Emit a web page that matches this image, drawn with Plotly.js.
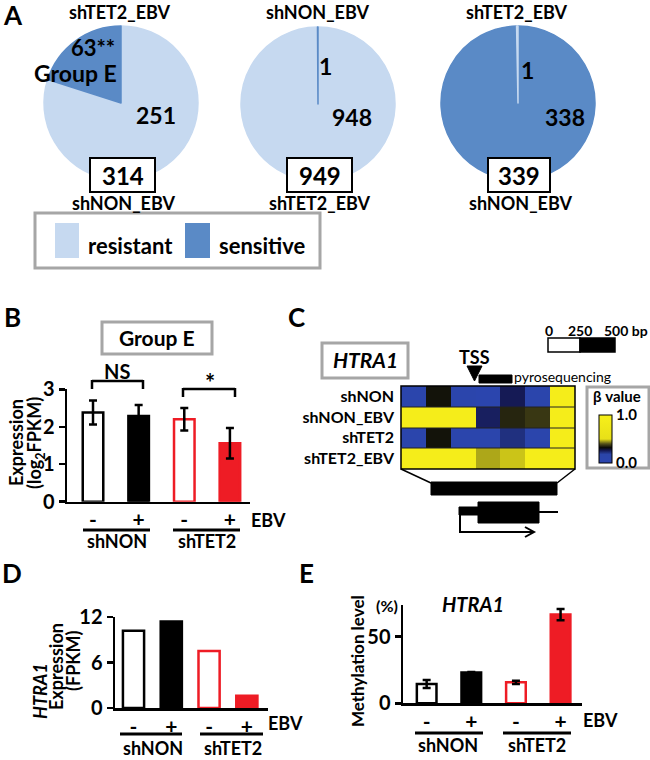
<!DOCTYPE html>
<html><head><meta charset="utf-8">
<script src="https://cdn.plot.ly/plotly-3.0.1.min.js"></script>
<style>html,body{margin:0;padding:0;background:#fff}#c{width:650px;height:760px}</style>
</head><body><div id="c"></div>
<script>
// ---------- DATA ----------
const pieLabels = ['resistant', 'sensitive'];
const pie1Labels = ['resistant', 'sensitive'];   // shTET2_EBV vs shNON_EBV
const pie1Values = [251, 63];
const pie2Labels = ['resistant', 'sensitive'];   // shNON_EBV vs shTET2_EBV
const pie2Values = [948, 1];
const pie3Labels = ['sensitive', 'resistant'];   // shTET2_EBV vs shNON_EBV
const pie3Values = [338, 1];

const conditions = ['shNON', 'shNON', 'shTET2', 'shTET2'];
const ebvTicks = ['-', '+', '-', '+'];
const groupEExpr = [2.38, 2.29, 2.20, 1.56];
const groupEErr = [0.32, 0.29, 0.30, 0.41];
const htra1Fpkm = [10.2, 11.4, 7.5, 1.6];
const htra1Meth = [14.5, 23.0, 15.7, 66.5];
const htra1MethErr = [3.0, 0.5, 1.2, 4.2];

const heatRows = ['shNON', 'shNON_EBV', 'shTET2', 'shTET2_EBV'];
const heatCols = [1, 2, 3, 4, 5, 6, 7];
const heatZ = [
  [0.10, 0.33, 0.10, 0.05, 0.26, 0.10, 0.92],
  [0.92, 0.92, 0.92, 0.25, 0.35, 0.37, 0.92],
  [0.10, 0.33, 0.10, 0.08, 0.22, 0.10, 0.92],
  [0.92, 0.92, 0.92, 0.46, 0.48, 0.92, 0.92]
];

// ---------- STYLE ----------
const W = 650, H = 760;
const px = x => x / W, py = y => 1 - y / H;
const FONT = 'Lato, "Open Sans", "DejaVu Sans", sans-serif';
const LIGHT = '#c6d9f0', DARK = '#5a8ac6', RED = '#ee1c25', GRAY = '#a6a6a6';
const colorOf = l => l === 'resistant' ? LIGHT : DARK;

const shapes = [], ann = [];
function rect(x0, y0, x1, y1, line, lw, fill) {
  shapes.push({type: 'rect', xref: 'paper', yref: 'paper', x0: px(x0), x1: px(x1), y0: py(y0), y1: py(y1),
    line: {color: line, width: lw}, fillcolor: fill || 'rgba(0,0,0,0)', layer: 'above'});
}
function seg(x0, y0, x1, y1, lw, col) {
  shapes.push({type: 'line', xref: 'paper', yref: 'paper', x0: px(x0), x1: px(x1), y0: py(y0), y1: py(y1),
    line: {color: col || 'black', width: lw || 2.5}, layer: 'above'});
}
function path(pts, lw, fill, close) {
  let d = pts.map((p, i) => (i ? 'L' : 'M') + px(p[0]) + ',' + py(p[1])).join(' ') + (close ? ' Z' : '');
  shapes.push({type: 'path', xref: 'paper', yref: 'paper', path: d,
    line: {color: 'black', width: lw}, fillcolor: fill || 'rgba(0,0,0,0)', layer: 'above'});
}
function text(t, x, y, size, o) {
  o = o || {};
  ann.push({text: t, x: px(x), y: py(y), xref: 'paper', yref: 'paper', showarrow: false,
    xanchor: o.xa || 'center', yanchor: 'middle', textangle: o.angle || 0, borderpad: 0,
    font: {family: FONT, size: size, color: 'black', weight: o.w || 'bold'}});
}

// ---------- PANEL A ----------
const pies = [
  {labels: pie1Labels, values: pie1Values, dir: 'clockwise', cx: 121, cy: 103, top: 'shTET2_EBV', bottom: 'shNON_EBV', bx: [90, 155]},
  {labels: pie2Labels, values: pie2Values, dir: 'counterclockwise', cx: 318, cy: 104, top: 'shNON_EBV', bottom: 'shTET2_EBV', bx: [287, 352]},
  {labels: pie3Labels, values: pie3Values, dir: 'counterclockwise', cx: 518, cy: 103, top: 'shTET2_EBV', bottom: 'shNON_EBV', bx: [488, 550]}
];
const R = 77;
const traces = pies.map(p => ({
  type: 'pie', labels: p.labels, values: p.values, sort: false, direction: p.dir, rotation: 0,
  marker: {colors: p.labels.map(colorOf), line: {width: 1.5, color: p.labels.map(colorOf)}}, textinfo: 'none', hoverinfo: 'skip',
  showlegend: false, domain: {x: [px(p.cx - R), px(p.cx + R)], y: [py(p.cy + R), py(p.cy - R)]}
}));
pies.forEach(p => {
  text(p.top, p.cx - 1, 12, 18);
  text(p.bottom, p.cx + 2, 203, 18);
  rect(p.bx[0], 158, p.bx[1], 192, 'black', 2, 'white');
  text(String(p.values.reduce((a, b) => a + b, 0)), (p.bx[0] + p.bx[1]) / 2, 175, 24);
});
text('A', 2, 15, 26, {xa: 'left'});
text(pie1Values[1] + '**', 93, 47, 22);
text('Group E', 75, 73, 23);
text(String(pie1Values[0]), 156, 115, 23);
text(String(pie2Values[1]), 326, 66, 23);
text(String(pie2Values[0]), 352, 117, 23);
text(String(pie3Values[1]), 527, 70, 23);
text(String(pie3Values[0]), 565, 117, 23);
// legend
rect(35, 213, 320, 268, GRAY, 3);
rect(55, 223, 79, 258, LIGHT, 0, LIGHT);
text(pieLabels[0], 87, 245, 22, {xa: 'left'});
rect(185, 223, 210, 258, DARK, 0, DARK);
text(pieLabels[1], 218, 245, 22, {xa: 'left'});

// ---------- bar helper ----------
const xs = [0, 1, 2, 3];
const fills = ['white', 'black', 'white', RED];
const edges = ['black', 'black', RED, RED];
function barTrace(y, err, xa, ya, width) {
  const t = {type: 'bar', x: xs, y: y, xaxis: xa, yaxis: ya, width: width, showlegend: false, hoverinfo: 'skip',
    marker: {color: fills, line: {color: edges, width: 2.5}}};
  if (err) t.error_y = {type: 'data', array: err, visible: true, color: 'black', thickness: 2.5, width: 4};
  return t;
}
traces.push(barTrace(groupEExpr, groupEErr, 'x', 'y', 0.45));
traces.push(barTrace(htra1Fpkm, null, 'x2', 'y2', 0.56));
traces.push(barTrace(htra1Meth, htra1MethErr, 'x3', 'y3', 0.44));

function xAxis(dom, range, anchor) {
  return {domain: [px(dom[0]), px(dom[1])], range: range, anchor: anchor, tickvals: xs, ticktext: ebvTicks,
    ticks: '', showline: true, linecolor: 'black', linewidth: 2.5, showgrid: false, zeroline: false,
    tickfont: {family: FONT, size: 21, color: 'black', weight: 'bold'}, ticklabelstandoff: -2, fixedrange: true};
}
function yAxis(dom, range, anchor, tv) {
  return {domain: [py(dom[0]), py(dom[1])], range: range, anchor: anchor, tickvals: tv,
    ticks: 'outside', ticklen: 6, tickwidth: 2.5, tickcolor: 'black', showline: true, linecolor: 'black', linewidth: 2.5,
    showgrid: false, zeroline: false, tickfont: {family: FONT, size: 20, color: 'black', weight: 'bold'}, fixedrange: true};
}

// ---------- PANEL B ----------
text('B', 3, 317, 26, {xa: 'left'});
rect(102, 322, 212, 354, GRAY, 3);
text('Group E', 157, 338, 21);
text('Expression', 16, 443, 18, {angle: -90});
text('(log<sub>2</sub>FPKM)', 35, 443, 18, {angle: -90});
text('NS', 117, 371, 20);
seg(92, 381, 143, 381); seg(92, 380, 92, 389); seg(143, 380, 143, 389);
text('*', 210, 383, 24);
seg(183, 389, 235, 389); seg(183, 388, 183, 397); seg(235, 388, 235, 397);
text('EBV', 268, 520, 18);
seg(83, 530, 150, 530, 3); seg(173, 530, 240, 530, 3);
text(conditions[0], 117, 541, 18); text(conditions[2], 207, 541, 18);

// ---------- PANEL C ----------
text('C', 287, 317, 26, {xa: 'left'});
rect(322, 343, 408, 378, GRAY, 3);
text('<i>HTRA1</i>', 365, 360, 21);
text('0', 549, 330, 14); text('250', 580, 330, 14); text('500 bp', 626, 330, 14);
rect(548, 338, 580, 352, 'black', 1.5, 'white');
rect(580, 338, 615, 352, 'black', 1.5, 'black');
text('TSS', 474, 357, 18);
path([[467, 366], [482, 366], [474.5, 381]], 1, 'black', true);
rect(479, 375, 512, 383, 'black', 1, 'black');
text('pyrosequencing', 513, 377, 14, {xa: 'left', w: 'normal'});
traces.push({type: 'heatmap', z: heatZ, x: heatCols, y: heatRows, xaxis: 'x4', yaxis: 'y4', zmin: 0, zmax: 1,
  hoverinfo: 'skip',
  colorscale: [[0, '#2b45b0'], [0.18, '#2b45a8'], [0.26, '#151a55'], [0.32, '#0a0a08'], [0.4, '#55521a'], [0.5, '#e8e018'], [1, '#f7f01a']],
  colorbar: {x: px(599), xanchor: 'left', y: py(439), yanchor: 'middle', len: 48, lenmode: 'pixels', thickness: 13,
    xpad: 0, ypad: 0, outlinewidth: 1, outlinecolor: 'black', tickvals: [0, 1], ticktext: ['0.0', '1.0'], ticks: '',
    tickfont: {family: FONT, size: 15, color: 'black', weight: 'bold'}}});
rect(401, 386, 575, 469, 'black', 1.5);
[407, 428, 448].forEach(y => seg(401, y, 575, y, 1, '#222'));
rect(587, 387, 649, 468, GRAY, 3);
text('β value', 617, 396, 15);
seg(401, 469, 431, 483, 1.5); seg(575, 469, 557, 483, 1.5);
rect(431, 482, 557, 495, 'black', 1, 'black');
rect(459, 507, 478, 515, 'black', 1, 'black');
rect(478, 502, 539, 523, 'black', 1, 'black');
seg(539, 512, 558, 512, 2);
path([[460, 508], [460, 532], [533, 532]], 2);
path([[525, 527], [534, 532], [525, 537]], 2);

// ---------- PANEL D ----------
text('D', 1, 573, 26, {xa: 'left'});
text('<i>HTRA1</i>', 40, 691, 18, {angle: -90});
text('Expression', 56, 667, 18, {angle: -90});
text('(FPKM)', 73, 661, 18, {angle: -90});
text('EBV', 285, 723, 18);
seg(120, 734, 182, 734, 3); seg(200, 734, 263, 734, 3);
text(conditions[0], 153, 748, 18); text(conditions[2], 233, 748, 18);

// ---------- PANEL E ----------
text('E', 298, 573, 26, {xa: 'left'});
text('(%)', 387, 605, 16);
text('<i>HTRA1</i>', 473, 604, 20);
text('Methylation level', 357, 661, 17, {angle: -90});
text('EBV', 600, 720, 18);
seg(415, 733, 483, 733, 3); seg(503, 733, 571, 733, 3);
text(conditions[0], 448, 745, 18); text(conditions[2], 537, 745, 18);

const layout = {
  width: W, height: H, margin: {l: 0, r: 0, t: 0, b: 0}, paper_bgcolor: 'white', plot_bgcolor: 'rgba(0,0,0,0)',
  font: {family: FONT, color: 'black'}, showlegend: false,
  xaxis: xAxis([67, 250], [-0.57, 3.44], 'y'),
  yaxis: yAxis([501.7, 389.3], [0, 3], 'x', [0, 1, 2, 3]),
  xaxis2: xAxis([115, 268], [-0.49, 3.56], 'y2'),
  yaxis2: yAxis([708, 617], [0, 12], 'x2', [0, 6, 12]),
  xaxis3: xAxis([403, 582], [-0.53, 3.48], 'y3'),
  yaxis3: yAxis([703.3, 605], [0, 73.7], 'x3', [0, 50]),
  xaxis4: {domain: [px(401), px(575)], anchor: 'y4', showticklabels: false, ticks: '', showgrid: false, zeroline: false, showline: false, fixedrange: true},
  yaxis4: {domain: [py(469), py(386)], anchor: 'x4', autorange: 'reversed', ticks: '', showgrid: false, zeroline: false, showline: false,
    ticklabelstandoff: 6, tickfont: {family: FONT, size: 16, color: 'black', weight: 'bold'}, fixedrange: true},
  shapes: shapes, annotations: ann
};
Plotly.newPlot('c', traces, layout, {displayModeBar: false, staticPlot: true});
</script></body></html>
